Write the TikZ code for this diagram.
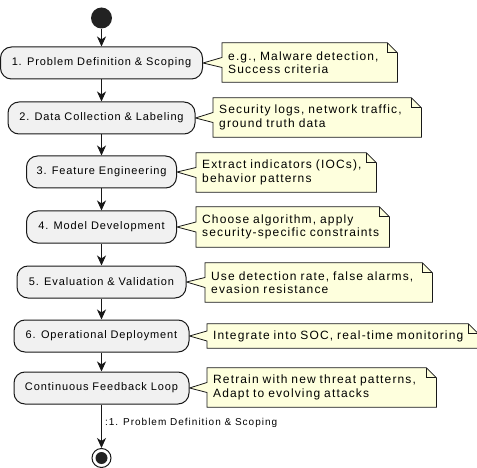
\documentclass[tikz,border=0pt]{standalone}
\usepackage{fontspec}
\setmainfont{Liberation Sans}
\newfontfamily\actfont[LetterSpace=8]{Liberation Sans}
\newfontfamily\notefont[LetterSpace=9.5]{Liberation Sans}
\newfontfamily\labelfont[LetterSpace=10]{Liberation Sans}
\usetikzlibrary{arrows.meta,calc}

\definecolor{actfill}{HTML}{F1F1F1}
\definecolor{actline}{HTML}{181818}
\definecolor{notefill}{HTML}{FEFFDD}
\definecolor{noteline}{HTML}{181818}
\definecolor{dotfill}{HTML}{222222}

\pgfdeclarelayer{notebg}
\pgfsetlayers{notebg,main}

% note outline with folded corner and a wedge pointing at the activity
\newcommand\notecallout[2]{%
  \begin{pgfonlayer}{notebg}
    \filldraw[noteshape]
      (#1.north west) -- ($(#1.north east)+(-10pt,0)$) -- ($(#1.north east)+(0,-10pt)$)
      -- (#1.south east) -- (#1.south west) -- ($(#1.west)+(0,-5pt)$)
      -- (#2.east) -- ($(#1.west)+(0,5pt)$) -- cycle;
    \draw[noteshape, fill=none]
      ($(#1.north east)+(-10pt,0)$) -- ($(#1.north east)+(-10pt,-10pt)$) -- ($(#1.north east)+(0,-10pt)$);
  \end{pgfonlayer}%
}

\begin{document}
\begin{tikzpicture}[x=1pt,y=-1pt,
  activity/.style={draw=actline, fill=actfill, line width=1pt, rounded corners=11pt,
    minimum height=32pt, inner sep=0pt, font=\actfont\fontsize{11}{13}\selectfont},
  notetext/.style={anchor=west, inner xsep=6pt, inner ysep=0pt, align=left,
    font=\notefont\fontsize{12}{13.5}\selectfont},
  noteshape/.style={draw=noteline, fill=notefill, line width=0.8pt, line join=miter},
  flow/.style={draw=actline, line width=1pt, -{Stealth[length=10pt,width=9pt,inset=3pt]}},
  flowlabel/.style={font=\labelfont\fontsize{10}{11}\selectfont, anchor=west, inner sep=0pt}
]
\useasboundingbox (0,0) rectangle (477,468);

% start and end markers
\node[circle, fill=dotfill, minimum size=21pt, inner sep=0pt] (start) at (101.5,18) {};
\node[circle, draw=actline, line width=1pt, minimum size=19pt, inner sep=0pt] (stop) at (101.5,458) {};
\fill[dotfill] (stop.center) circle (6pt);

% activities
\node[activity, minimum width=202pt] (a1) at (101.5,63)  {1. Problem Definition \& Scoping};
\node[activity, minimum width=187pt] (a2) at (101.5,118) {2. Data Collection \& Labeling};
\node[activity, minimum width=150pt] (a3) at (101.5,172) {3. Feature Engineering};
\node[activity, minimum width=150pt] (a4) at (101.5,227) {4. Model Development};
\node[activity, minimum width=169pt] (a5) at (101.5,282) {5. Evaluation \& Validation};
\node[activity, minimum width=175pt] (a6) at (101.5,336) {6. Operational Deployment};
\node[activity, minimum width=175pt] (a7) at (101.5,388) {Continuous Feedback Loop};

% notes
\node[notetext, text width=163pt, minimum height=39pt] (n1) at (222,62.5)
  {e.g., Malware detection,\\Success criteria};
\node[notetext, text width=196pt, minimum height=39pt] (n2) at (213,117.5)
  {Security logs, network traffic,\\ground truth data};
\node[notetext, text width=168pt, minimum height=39pt] (n3) at (196,172.5)
  {Extract indicators (IOCs),\\behavior patterns};
\node[notetext, text width=181pt, minimum height=40pt] (n4) at (196,227)
  {Choose algorithm, apply\\security-specific constraints};
\node[notetext, text width=215pt, minimum height=39pt] (n5) at (205,282.5)
  {Use detection rate, false alarms,\\evasion resistance};
\node[notetext, text width=259pt, minimum height=24pt] (n6) at (207,336)
  {Integrate into SOC, real-time monitoring};
\node[notetext, text width=217pt, minimum height=39pt] (n7) at (207,387.5)
  {Retrain with new threat patterns,\\Adapt to evolving attacks};

\notecallout{n1}{a1}
\notecallout{n2}{a2}
\notecallout{n3}{a3}
\notecallout{n4}{a4}
\notecallout{n5}{a5}
\notecallout{n6}{a6}
\notecallout{n7}{a7}

% control flow
\draw[flow] (start) -- (a1);
\draw[flow] (a1) -- (a2);
\draw[flow] (a2) -- (a3);
\draw[flow] (a3) -- (a4);
\draw[flow] (a4) -- (a5);
\draw[flow] (a5) -- (a6);
\draw[flow] (a6) -- (a7);
\draw[flow] (a7) -- node[flowlabel, pos=0.43, xshift=3pt] {:1. Problem Definition \& Scoping} (stop);
\end{tikzpicture}
\end{document}
